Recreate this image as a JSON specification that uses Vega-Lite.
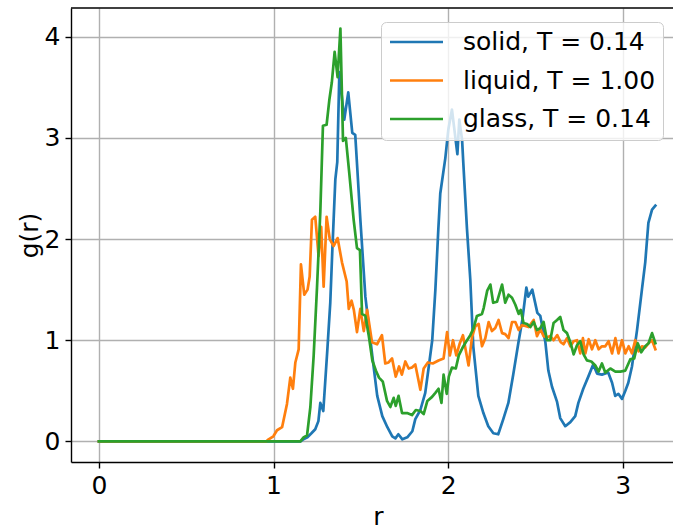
{
  "$schema": "https://vega.github.io/schema/vega-lite/v6.json",
  "autosize": {"type": "none"},
  "width": 602,
  "height": 454,
  "padding": {"left": 71, "top": 8, "right": 0, "bottom": 70},
  "background": "white",
  "config": {
    "view": {"stroke": null},
    "font": "DejaVu Sans",
    "axis": {
      "labelFont": "DejaVu Sans", "titleFont": "DejaVu Sans",
      "labelFontSize": 25, "titleFontSize": 25, "titleFontWeight": "normal",
      "labelColor": "black", "titleColor": "black",
      "domainColor": "black", "domainWidth": 1.4,
      "tickColor": "black", "tickWidth": 1.4, "tickSize": 6,
      "gridColor": "#b0b0b0", "gridWidth": 1.4, "labelPadding": 5
    },
    "legend": {"labelFont": "DejaVu Sans"}
  },
  "datasets": {
    "solid": [
      {"r":0,"g":0},{"r":1.154,"g":0},{"r":1.171,"g":0.02},{"r":1.194,"g":0.04},{"r":1.217,"g":0.08},{"r":1.239,"g":0.12},{"r":1.257,"g":0.2},{"r":1.268,"g":0.38},{"r":1.285,"g":0.3},{"r":1.308,"g":0.9},{"r":1.325,"g":1.37},{"r":1.337,"g":1.9},{"r":1.354,"g":2.59},{"r":1.365,"g":2.76},{"r":1.377,"g":3.65},{"r":1.405,"g":3.18},{"r":1.428,"g":3.45},{"r":1.451,"g":3.05},{"r":1.468,"g":3.03},{"r":1.48,"g":2.69},{"r":1.497,"g":2.2},{"r":1.526,"g":1.43},{"r":1.566,"g":0.84},{"r":1.594,"g":0.45},{"r":1.623,"g":0.25},{"r":1.652,"g":0.14},{"r":1.68,"g":0.05},{"r":1.698,"g":0.03},{"r":1.715,"g":0.07},{"r":1.738,"g":0.02},{"r":1.766,"g":0.04},{"r":1.795,"g":0.1},{"r":1.812,"g":0.22},{"r":1.841,"g":0.31},{"r":1.869,"g":0.48},{"r":1.887,"g":0.71},{"r":1.909,"g":1.0},{"r":1.927,"g":1.5},{"r":1.944,"g":2.1},{"r":1.955,"g":2.45},{"r":1.984,"g":2.8},{"r":2.001,"g":3.08},{"r":2.022,"g":3.28},{"r":2.053,"g":2.84},{"r":2.064,"g":3.18},{"r":2.08,"g":2.98},{"r":2.087,"g":2.75},{"r":2.108,"g":2.1},{"r":2.127,"g":1.6},{"r":2.144,"g":0.94},{"r":2.173,"g":0.45},{"r":2.202,"g":0.28},{"r":2.23,"g":0.15},{"r":2.259,"g":0.08},{"r":2.287,"g":0.07},{"r":2.316,"g":0.22},{"r":2.345,"g":0.38},{"r":2.373,"g":0.66},{"r":2.402,"g":0.97},{"r":2.425,"g":1.2},{"r":2.448,"g":1.52},{"r":2.459,"g":1.43},{"r":2.482,"g":1.5},{"r":2.511,"g":1.27},{"r":2.528,"g":1.24},{"r":2.557,"g":0.98},{"r":2.574,"g":0.7},{"r":2.595,"g":0.54},{"r":2.624,"g":0.39},{"r":2.642,"g":0.23},{"r":2.671,"g":0.15},{"r":2.7,"g":0.19},{"r":2.728,"g":0.25},{"r":2.746,"g":0.38},{"r":2.774,"g":0.52},{"r":2.803,"g":0.64},{"r":2.831,"g":0.76},{"r":2.853,"g":0.67},{"r":2.881,"g":0.66},{"r":2.917,"g":0.68},{"r":2.939,"g":0.58},{"r":2.957,"g":0.45},{"r":2.975,"g":0.47},{"r":2.996,"g":0.42},{"r":3.015,"g":0.5},{"r":3.032,"g":0.58},{"r":3.053,"g":0.74},{"r":3.082,"g":1.1},{"r":3.11,"g":1.5},{"r":3.129,"g":1.77},{"r":3.147,"g":2.16},{"r":3.168,"g":2.29},{"r":3.187,"g":2.33}
    ],
    "liquid": [
      {"r":0,"g":0},{"r":0.959,"g":0},{"r":0.972,"g":0.02},{"r":0.999,"g":0.05},{"r":1.02,"g":0.11},{"r":1.049,"g":0.14},{"r":1.077,"g":0.37},{"r":1.096,"g":0.63},{"r":1.111,"g":0.52},{"r":1.125,"g":0.78},{"r":1.144,"g":0.91},{"r":1.157,"g":1.75},{"r":1.176,"g":1.45},{"r":1.195,"g":1.5},{"r":1.207,"g":1.63},{"r":1.22,"g":2.19},{"r":1.239,"g":2.22},{"r":1.258,"g":1.83},{"r":1.273,"g":2.12},{"r":1.287,"g":1.53},{"r":1.304,"g":2.22},{"r":1.322,"g":2.0},{"r":1.344,"g":1.93},{"r":1.367,"g":2.01},{"r":1.392,"g":1.77},{"r":1.419,"g":1.58},{"r":1.431,"g":1.31},{"r":1.447,"g":1.39},{"r":1.46,"g":1.3},{"r":1.478,"g":1.08},{"r":1.497,"g":1.31},{"r":1.517,"g":1.09},{"r":1.536,"g":1.3},{"r":1.564,"g":0.98},{"r":1.593,"g":0.96},{"r":1.621,"g":1.05},{"r":1.64,"g":0.77},{"r":1.659,"g":0.78},{"r":1.679,"g":0.82},{"r":1.7,"g":0.64},{"r":1.719,"g":0.74},{"r":1.735,"g":0.66},{"r":1.755,"g":0.79},{"r":1.774,"g":0.72},{"r":1.793,"g":0.73},{"r":1.812,"g":0.76},{"r":1.841,"g":0.51},{"r":1.86,"g":0.72},{"r":1.884,"g":0.78},{"r":1.912,"g":0.77},{"r":1.945,"g":0.8},{"r":1.974,"g":0.82},{"r":1.994,"g":1.08},{"r":2.01,"g":0.85},{"r":2.028,"g":1.0},{"r":2.047,"g":0.85},{"r":2.067,"g":0.97},{"r":2.085,"g":1.05},{"r":2.101,"g":0.9},{"r":2.117,"g":0.75},{"r":2.137,"g":1.03},{"r":2.156,"g":1.14},{"r":2.175,"g":1.16},{"r":2.194,"g":0.94},{"r":2.213,"g":1.02},{"r":2.232,"g":1.18},{"r":2.251,"g":1.09},{"r":2.27,"g":1.12},{"r":2.289,"g":1.2},{"r":2.309,"g":1.07},{"r":2.327,"g":1.06},{"r":2.346,"g":1.02},{"r":2.366,"g":1.18},{"r":2.385,"g":1.18},{"r":2.404,"g":1.1},{"r":2.423,"g":1.15},{"r":2.442,"g":1.14},{"r":2.461,"g":1.13},{"r":2.49,"g":1.2},{"r":2.509,"g":1.04},{"r":2.528,"g":1.11},{"r":2.547,"g":1.04},{"r":2.566,"g":1.03},{"r":2.585,"g":1.04},{"r":2.604,"g":1.0},{"r":2.625,"g":1.05},{"r":2.645,"g":0.98},{"r":2.661,"g":0.96},{"r":2.681,"g":1.02},{"r":2.7,"g":0.94},{"r":2.719,"g":0.99},{"r":2.738,"g":1.0},{"r":2.757,"g":0.87},{"r":2.772,"g":1.02},{"r":2.786,"g":0.87},{"r":2.805,"g":1.01},{"r":2.824,"g":0.91},{"r":2.843,"g":1.0},{"r":2.862,"g":0.91},{"r":2.881,"g":0.94},{"r":2.9,"g":0.94},{"r":2.919,"g":0.99},{"r":2.939,"g":0.87},{"r":2.958,"g":1.02},{"r":2.976,"g":0.87},{"r":2.996,"g":1.0},{"r":3.015,"g":0.87},{"r":3.034,"g":0.94},{"r":3.053,"g":0.87},{"r":3.072,"g":1.0},{"r":3.091,"g":0.89},{"r":3.11,"g":0.94},{"r":3.129,"g":0.93},{"r":3.148,"g":0.97},{"r":3.168,"g":1.0},{"r":3.187,"g":0.91}
    ],
    "glass": [
      {"r":0,"g":0},{"r":1.154,"g":0},{"r":1.172,"g":0.04},{"r":1.192,"g":0.06},{"r":1.211,"g":0.34},{"r":1.23,"g":0.85},{"r":1.249,"g":1.52},{"r":1.268,"g":2.27},{"r":1.283,"g":3.12},{"r":1.304,"g":3.13},{"r":1.32,"g":3.38},{"r":1.334,"g":3.55},{"r":1.35,"g":3.85},{"r":1.367,"g":3.6},{"r":1.383,"g":4.08},{"r":1.398,"g":2.97},{"r":1.414,"g":3.0},{"r":1.434,"g":2.65},{"r":1.459,"g":2.19},{"r":1.478,"g":1.91},{"r":1.495,"g":1.89},{"r":1.507,"g":1.26},{"r":1.526,"g":1.24},{"r":1.545,"g":1.05},{"r":1.566,"g":0.8},{"r":1.586,"g":0.7},{"r":1.604,"g":0.63},{"r":1.626,"g":0.59},{"r":1.65,"g":0.4},{"r":1.669,"g":0.34},{"r":1.688,"g":0.43},{"r":1.7,"g":0.35},{"r":1.716,"g":0.45},{"r":1.736,"g":0.28},{"r":1.765,"g":0.28},{"r":1.793,"g":0.26},{"r":1.815,"g":0.31},{"r":1.841,"g":0.3},{"r":1.86,"g":0.27},{"r":1.881,"g":0.4},{"r":1.908,"g":0.44},{"r":1.927,"g":0.48},{"r":1.945,"g":0.52},{"r":1.962,"g":0.38},{"r":1.974,"g":0.66},{"r":1.992,"g":0.47},{"r":2.004,"g":0.64},{"r":2.022,"g":0.73},{"r":2.044,"g":0.72},{"r":2.061,"g":0.85},{"r":2.081,"g":0.92},{"r":2.101,"g":0.98},{"r":2.127,"g":1.05},{"r":2.146,"g":1.12},{"r":2.165,"g":1.24},{"r":2.194,"g":1.26},{"r":2.204,"g":1.32},{"r":2.224,"g":1.49},{"r":2.242,"g":1.55},{"r":2.258,"g":1.37},{"r":2.28,"g":1.38},{"r":2.309,"g":1.55},{"r":2.327,"g":1.37},{"r":2.346,"g":1.45},{"r":2.366,"g":1.42},{"r":2.385,"g":1.35},{"r":2.404,"g":1.26},{"r":2.416,"g":1.3},{"r":2.432,"g":1.17},{"r":2.452,"g":1.16},{"r":2.471,"g":1.13},{"r":2.49,"g":1.18},{"r":2.509,"g":1.1},{"r":2.528,"g":1.12},{"r":2.547,"g":1.18},{"r":2.566,"g":1.0},{"r":2.585,"g":1.0},{"r":2.604,"g":1.17},{"r":2.624,"g":1.2},{"r":2.642,"g":1.23},{"r":2.661,"g":1.1},{"r":2.681,"g":1.07},{"r":2.7,"g":0.98},{"r":2.719,"g":0.86},{"r":2.738,"g":0.95},{"r":2.757,"g":0.99},{"r":2.776,"g":0.86},{"r":2.795,"g":0.8},{"r":2.82,"g":0.79},{"r":2.843,"g":0.75},{"r":2.862,"g":0.69},{"r":2.881,"g":0.77},{"r":2.9,"g":0.68},{"r":2.929,"g":0.72},{"r":2.958,"g":0.69},{"r":2.986,"g":0.69},{"r":3.015,"g":0.7},{"r":3.043,"g":0.81},{"r":3.066,"g":0.82},{"r":3.086,"g":0.97},{"r":3.106,"g":0.88},{"r":3.129,"g":0.94},{"r":3.148,"g":0.97},{"r":3.168,"g":1.07},{"r":3.187,"g":0.97}
    ]
  },
  "layer": [
    {
      "data": {"name": "solid"},
      "mark": {"type": "line", "strokeWidth": 2.7, "strokeJoin": "round", "strokeCap": "square"},
      "encoding": {
        "x": {"field": "r", "type": "quantitative", "scale": {"domain": [-0.16, 3.288], "nice": false, "zero": false},
              "axis": {"values": [0, 1, 2, 3], "format": "d", "title": "r", "titlePadding": 6, "titleX": 307, "labelFlush": false}},
        "y": {"field": "g", "type": "quantitative", "scale": {"domain": [-0.204, 4.284], "nice": false, "zero": false},
              "axis": {"values": [0, 1, 2, 3, 4], "format": "d", "title": "g(r)", "titlePadding": 2}},
        "color": {"datum": "solid, T = 0.14", "type": "nominal",
          "scale": {"domain": ["solid, T = 0.14", "liquid, T = 1.00", "glass, T = 0.14"], "range": ["#1f77b4", "#ff7f0e", "#2ca02c"]},
          "legend": {"orient": "none", "legendX": 310, "legendY": 14, "title": null, "symbolType": "stroke", "symbolSize": 2809,
            "symbolStrokeWidth": 2.7, "clipHeight": 25, "rowPadding": 12.5, "labelOffset": 18.5, "padding": 7.5,
            "labelFontSize": 25, "labelColor": "black", "labelLimit": 400,
            "fillColor": "rgba(255,255,255,0.8)", "strokeColor": "#cccccc", "cornerRadius": 5}}
      }
    },
    {
      "data": {"name": "liquid"},
      "mark": {"type": "line", "strokeWidth": 2.7, "strokeJoin": "round", "strokeCap": "square"},
      "encoding": {
        "x": {"field": "r", "type": "quantitative"},
        "y": {"field": "g", "type": "quantitative"},
        "color": {"datum": "liquid, T = 1.00", "type": "nominal"}
      }
    },
    {
      "data": {"name": "glass"},
      "mark": {"type": "line", "strokeWidth": 2.7, "strokeJoin": "round", "strokeCap": "square"},
      "encoding": {
        "x": {"field": "r", "type": "quantitative"},
        "y": {"field": "g", "type": "quantitative"},
        "color": {"datum": "glass, T = 0.14", "type": "nominal"}
      }
    },
    {
      "data": {"values": [{}]},
      "mark": {"type": "rule", "color": "black", "strokeWidth": 1.4},
      "encoding": {"y": {"datum": 4.284, "type": "quantitative"}}
    }
  ]
}
